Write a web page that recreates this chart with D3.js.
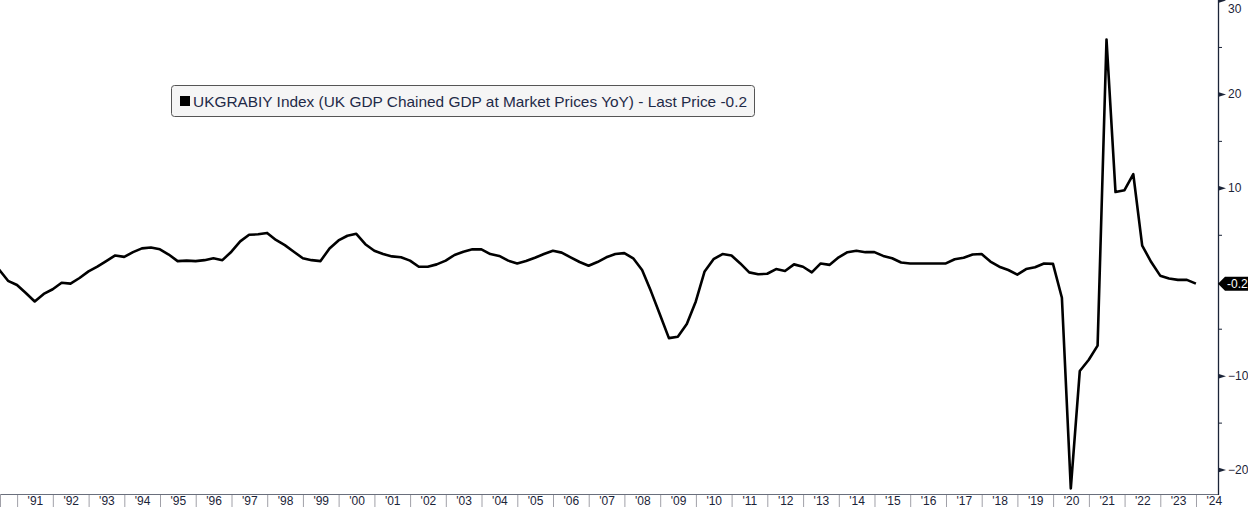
<!DOCTYPE html>
<html><head><meta charset="utf-8">
<script src="https://cdn.jsdelivr.net/npm/d3@7"></script>
<style>
html,body{margin:0;padding:0;background:#fff;overflow:hidden}
svg{display:block}
</style></head>
<body>
<svg id="c" width="1248" height="507"></svg>
<script>
// ---- data (UK GDP YoY %, quarterly, first value = 1990 Q2) ----
const firstYear = 1990;
const firstQuarter = 2;
const values = [
  1.3, 0.1, -0.35,
  -1.2, -2.1, -1.3, -0.8,
  -0.1, -0.2, 0.4, 1.1,
  1.6, 2.2, 2.8, 2.65,
  3.15, 3.55, 3.65, 3.45,
  2.9, 2.2, 2.25, 2.2,
  2.3, 2.5, 2.3, 3.2,
  4.3, 5.0, 5.05, 5.2,
  4.45, 3.9, 3.2, 2.5,
  2.3, 2.2, 3.55, 4.4,
  4.9, 5.1, 4.0, 3.3,
  2.95, 2.7, 2.6, 2.25,
  1.6, 1.6, 1.85, 2.25,
  2.85, 3.2, 3.45, 3.45,
  2.95, 2.75, 2.25, 1.95,
  2.2, 2.55, 2.95, 3.3,
  3.1, 2.6, 2.1, 1.7,
  2.1, 2.6, 2.95, 3.05,
  2.5, 1.25, -1.05, -3.55,
  -6.0, -5.85, -4.5, -2.1,
  1.1, 2.4, 2.95, 2.8,
  1.95, 1.0, 0.8, 0.85,
  1.35, 1.15, 1.85, 1.6,
  1.0, 1.95, 1.8, 2.6,
  3.15, 3.3, 3.15, 3.15,
  2.75, 2.5, 2.05, 1.95,
  1.95, 1.95, 1.95, 1.95,
  2.4, 2.55, 2.9, 2.95,
  2.15, 1.6, 1.25, 0.75,
  1.35, 1.55, 1.95, 1.9,
  -1.7, -22.0, -9.5, -8.3,
  -6.8, 25.8, 9.55, 9.75,
  11.45, 3.85, 2.1, 0.65,
  0.35, 0.2, 0.2, -0.2
];
const yMajorTicks = [-20, -10, 10, 20, 30];
const yMinorTicks = [-15, -5, 5, 15, 25];
const yearTicks = d3.range(1991, 2025);
const yearLabels = ["'91","'92","'93","'94","'95","'96","'97","'98","'99","'00","'01","'02","'03","'04","'05","'06","'07","'08","'09","'10","'11","'12","'13","'14","'15","'16","'17","'18","'19","'20","'21","'22","'23","'24"];
const legendText = "UKGRABIY Index (UK GDP Chained GDP at Market Prices YoY) - Last Price -0.2";
const lastLabel = "-0.2";

// quarter-end dates
const data = values.map((v, i) => {
  const q = firstQuarter - 1 + i;
  const y = firstYear + Math.floor(q / 4);
  const qq = q % 4;
  return { date: new Date(y, qq * 3 + 3, 0), value: v };
});

const W = 1248, H = 507;
const plotR = 1218, plotB = 494;
const svg = d3.select("#c");
const navy = "#1b2438";
const font = "'Liberation Sans', Arial, sans-serif";

const x = d3.scaleTime()
  .domain([new Date(1990, 6, 10), new Date(2024, 7, 13)])
  .range([0, plotR]);
const y = d3.scaleLinear().domain([-22.6, 30]).range([plotB, 0]);

svg.append("defs").append("clipPath").attr("id", "clip")
  .append("rect").attr("x", 0).attr("y", 0).attr("width", plotR).attr("height", plotB);

// line
const line = d3.line().x(d => x(d.date)).y(d => y(d.value));
svg.append("path").datum(data)
  .attr("clip-path", "url(#clip)")
  .attr("fill", "none").attr("stroke", "#000").attr("stroke-width", 2.6)
  .attr("stroke-linejoin", "round")
  .attr("d", line);

// bottom axis: separators at year starts
const xAxisSep = d3.axisBottom(x)
  .tickValues(yearTicks.map(yr => new Date(yr, 0, 1)))
  .tickSize(14).tickFormat("");
const gx = svg.append("g").attr("transform", `translate(0,${plotB})`).call(xAxisSep);
gx.select(".domain").remove();
gx.selectAll(".tick line").attr("stroke", "#a0a0a8").attr("stroke-width", 1);
svg.append("line").attr("x1", 0).attr("x2", plotR).attr("y1", plotB + 0.5).attr("y2", plotB + 0.5)
  .attr("stroke", "#6a6f7c").attr("stroke-width", 1.2);
svg.append("line").attr("x1", 0.5).attr("x2", 0.5).attr("y1", plotB).attr("y2", H)
  .attr("stroke", "#a0a0a8");

// bottom axis labels at mid year
const xAxisLab = d3.axisBottom(x)
  .tickValues(yearTicks.map(yr => new Date(yr, 6, 2)))
  .tickSize(0).tickPadding(0)
  .tickFormat((d, i) => yearLabels[i]);
const gxl = svg.append("g").attr("transform", `translate(0,${plotB})`).call(xAxisLab);
gxl.select(".domain").remove();
gxl.selectAll(".tick text").attr("dy", null).attr("y", 10.5)
  .attr("fill", navy).style("font", `12px ${font}`);

// right axis
const gy = svg.append("g").attr("transform", `translate(${plotR},0)`)
  .call(d3.axisRight(y).tickValues(yMajorTicks).tickSize(0).tickPadding(10).tickFormat(d3.format("d")));
gy.select(".domain").remove();
gy.selectAll(".tick text").attr("fill", navy).style("font", `12px ${font}`)
  .attr("dy", d => y(d) < 8 ? "1.0em" : "0.32em");
gy.selectAll(".tick").append("path").attr("d", "M0,-2.5L0,2.5L8,0Z").attr("fill", navy);

const gym = svg.append("g").attr("transform", `translate(${plotR},0)`)
  .call(d3.axisRight(y).tickValues(yMinorTicks).tickSize(4).tickFormat(""));
gym.select(".domain").remove();
gym.selectAll(".tick line").attr("stroke", navy);

svg.append("line").attr("x1", plotR + 0.5).attr("x2", plotR + 0.5).attr("y1", 0).attr("y2", plotB + 1)
  .attr("stroke", navy).attr("stroke-width", 1.3);

// last price tag
const last = data[data.length - 1];
const ly = y(last.value);
svg.append("path")
  .attr("d", `M${plotR},${ly} L${plotR + 7},${ly - 7} L${W},${ly - 7} L${W},${ly + 7} L${plotR + 7},${ly + 7} Z`)
  .attr("fill", "#000");
svg.append("text").attr("x", plotR + 9).attr("y", ly + 4.5)
  .attr("fill", "#fff").style("font", `12px ${font}`).text(lastLabel);

// legend
const lg = svg.append("g");
lg.append("rect").attr("x", 171.5).attr("y", 85.5).attr("width", 583).attr("height", 31)
  .attr("rx", 3).attr("fill", "#f5f5f5").attr("stroke", "#555").attr("stroke-width", 1);
lg.append("rect").attr("x", 180).attr("y", 96).attr("width", 10).attr("height", 10).attr("fill", "#000");
lg.append("text").attr("x", 193).attr("y", 106.5)
  .attr("fill", "#1f2a48").style("font", `15px ${font}`)
  .attr("textLength", 554).attr("lengthAdjust", "spacingAndGlyphs")
  .text(legendText);
</script>
</body></html>
